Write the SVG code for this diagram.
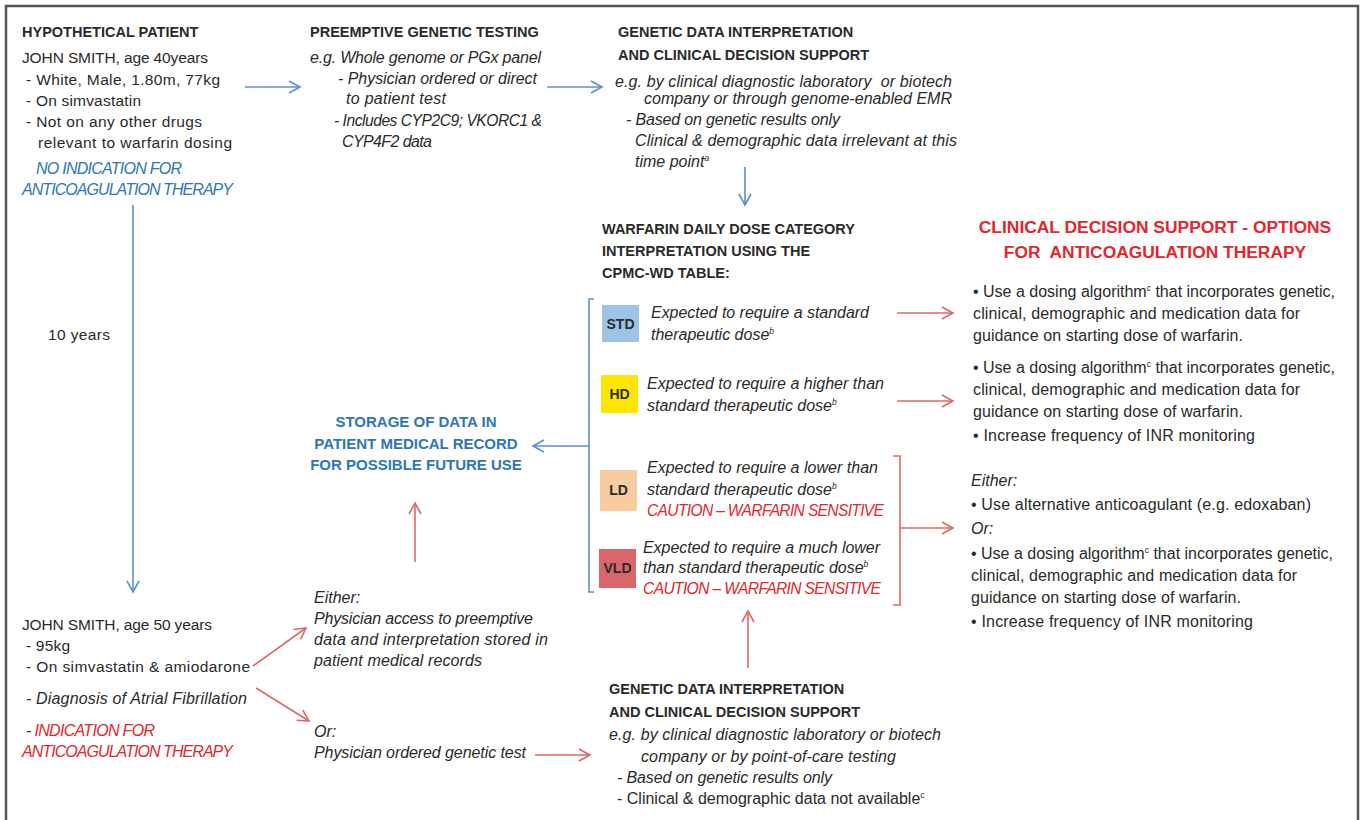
<svg xmlns="http://www.w3.org/2000/svg" width="1362" height="820" viewBox="0 0 1362 820">
<defs>
<marker id="ab" markerUnits="userSpaceOnUse" markerWidth="14" markerHeight="14" refX="12" refY="7" orient="auto"><path d="M1,1 L12,7 L1,13" fill="none" stroke="#5b8fd0" stroke-width="1.6"/></marker>
<marker id="ar" markerUnits="userSpaceOnUse" markerWidth="14" markerHeight="14" refX="12" refY="7" orient="auto"><path d="M1,1 L12,7 L1,13" fill="none" stroke="#e06666" stroke-width="1.6"/></marker>
<style>
text{font-family:"Liberation Sans",Arial,sans-serif;font-size:15.5px;fill:#2a2a2a}
.b{font-weight:bold}
.i{font-style:italic;font-size:16px}
.blue{fill:#2e75b6}
.red{fill:#e3262d}
.h{font-size:14.5px;font-weight:bold}
.s{font-size:15px;font-weight:bold}
.r{font-size:16px}
.n{font-size:15.6px}
.sup{font-size:8.5px}
.cb{stroke:#5b8fd0;stroke-width:1.6;fill:none}
.cr{stroke:#e06666;stroke-width:1.6;fill:none}
.lbl{font-weight:bold;font-size:14px;text-anchor:middle}
</style>
</defs>
<rect width="1362" height="820" fill="#fff"/>
<path d="M6,820 V6 H1358 V820" fill="none" stroke="#555" stroke-width="2.5"/>

<g id="patient40">
<text x="22" y="37" class="h">HYPOTHETICAL PATIENT</text>
<text x="22" y="63" textLength="186">JOHN SMITH, age 40years</text>
<text x="26" y="85" textLength="194">- White, Male, 1.80m, 77kg</text>
<text x="26" y="106" textLength="115">- On simvastatin</text>
<text x="26" y="127" textLength="176">- Not on any other drugs</text>
<text x="38" y="148" textLength="194">relevant to warfarin dosing</text>
<text x="36" y="174" class="i blue" textLength="146">NO INDICATION FOR</text>
<text x="22" y="195" class="i blue" textLength="211">ANTICOAGULATION THERAPY</text>
</g>

<g id="preemptive">
<text x="310" y="37" class="h">PREEMPTIVE GENETIC TESTING</text>
<text x="310" y="63" class="i" textLength="231">e.g. Whole genome or PGx panel</text>
<text x="338" y="84" class="i" textLength="199">- Physician ordered or direct</text>
<text x="346" y="104" class="i" textLength="100">to patient test</text>
<text x="334" y="126" class="i n" textLength="208">- Includes CYP2C9; VKORC1 &amp;</text>
<text x="342" y="147" class="i" textLength="90">CYP4F2 data</text>
</g>

<g id="gdi1">
<text x="618" y="37" class="h">GENETIC DATA INTERPRETATION</text>
<text x="618" y="60" class="h">AND CLINICAL DECISION SUPPORT</text>
<text x="615" y="87" class="i" textLength="337" xml:space="preserve">e.g. by clinical diagnostic laboratory  or biotech</text>
<text x="644" y="104" class="i" textLength="308">company or through genome-enabled EMR</text>
<text x="626" y="125" class="i" textLength="214">- Based on genetic results only</text>
<text x="635" y="146" class="i" textLength="322">Clinical &amp; demographic data irrelevant at this</text>
<text x="635" y="167" class="i">time point<tspan class="sup" dy="-6">a</tspan></text>
</g>

<g id="wdtable">
<text x="602" y="234" class="h">WARFARIN DAILY DOSE CATEGORY</text>
<text x="602" y="256" class="h">INTERPRETATION USING THE</text>
<text x="602" y="278" class="h">CPMC-WD TABLE:</text>
</g>

<g id="std">
<rect x="602" y="305" width="37" height="37" fill="#9dc3e6"/>
<text x="620.5" y="329" class="lbl">STD</text>
<text x="651" y="318" class="i" textLength="218">Expected to require a standard</text>
<text x="651" y="340" class="i">therapeutic dose<tspan class="sup" dy="-6">b</tspan></text>
</g>

<g id="hd">
<rect x="601" y="375" width="37" height="38" fill="#ffe600"/>
<text x="619.5" y="399" class="lbl">HD</text>
<text x="647" y="389" class="i" textLength="237">Expected to require a higher than</text>
<text x="647" y="411" class="i">standard therapeutic dose<tspan class="sup" dy="-6">b</tspan></text>
</g>

<g id="ld">
<rect x="600" y="470" width="37" height="41" fill="#f8cba0"/>
<text x="618.5" y="495" class="lbl">LD</text>
<text x="647" y="473" class="i" textLength="231">Expected to require a lower than</text>
<text x="647" y="495" class="i">standard therapeutic dose<tspan class="sup" dy="-6">b</tspan></text>
<text x="647" y="516" class="i red n" textLength="237">CAUTION – WARFARIN SENSITIVE</text>
</g>

<g id="vld">
<rect x="599" y="549" width="37" height="39" fill="#d9666a"/>
<text x="617.5" y="573" class="lbl">VLD</text>
<text x="643" y="553" class="i" textLength="237">Expected to require a much lower</text>
<text x="643" y="573" class="i">than standard therapeutic dose<tspan class="sup" dy="-6">b</tspan></text>
<text x="643" y="594" class="i red n" textLength="238">CAUTION – WARFARIN SENSITIVE</text>
</g>

<g id="storage">
<text x="416" y="427" class="s blue" text-anchor="middle">STORAGE OF DATA IN</text>
<text x="416" y="449" class="s blue" text-anchor="middle">PATIENT MEDICAL RECORD</text>
<text x="416" y="470" class="s blue" text-anchor="middle">FOR POSSIBLE FUTURE USE</text>
</g>

<g id="options">
<text x="1155" y="233" class="b red" text-anchor="middle" style="font-size:17.4px">CLINICAL DECISION SUPPORT - OPTIONS</text>
<text x="1155" y="258" class="b red" text-anchor="middle" style="font-size:17.4px" xml:space="preserve">FOR  ANTICOAGULATION THERAPY</text>
<text x="973" y="297" class="r">•  Use a dosing algorithm<tspan class="sup" dy="-6">c</tspan><tspan dy="6"> that incorporates genetic,</tspan></text>
<text x="973" y="319" class="r" textLength="327">clinical, demographic and medication data for</text>
<text x="973" y="341" class="r" textLength="270">guidance on starting dose of warfarin.</text>
<text x="973" y="373" class="r">•  Use a dosing algorithm<tspan class="sup" dy="-6">c</tspan><tspan dy="6"> that incorporates genetic,</tspan></text>
<text x="973" y="395" class="r" textLength="327">clinical, demographic and medication data for</text>
<text x="973" y="417" class="r" textLength="270">guidance on starting dose of warfarin.</text>
<text x="973" y="441" class="r" textLength="282">•  Increase frequency of INR monitoring</text>
<text x="971" y="486" class="i">Either:</text>
<text x="971" y="510" class="r" textLength="340">•  Use alternative anticoagulant (e.g. edoxaban)</text>
<text x="971" y="534" class="i">Or:</text>
<text x="971" y="559" class="r">•  Use a dosing algorithm<tspan class="sup" dy="-6">c</tspan><tspan dy="6"> that incorporates genetic,</tspan></text>
<text x="971" y="581" class="r" textLength="326">clinical, demographic and medication data for</text>
<text x="971" y="603" class="r" textLength="270">guidance on starting dose of warfarin.</text>
<text x="971" y="627" class="r" textLength="282">•  Increase frequency of INR monitoring</text>
</g>

<g id="patient50">
<text x="22" y="630" textLength="190">JOHN SMITH, age 50 years</text>
<text x="26" y="651" textLength="44">- 95kg</text>
<text x="26" y="672" textLength="224">- On simvastatin &amp; amiodarone</text>
<text x="26" y="704" class="i" textLength="221">- Diagnosis of Atrial Fibrillation</text>
<text x="26" y="736" class="i" textLength="129">- <tspan class="red">INDICATION FOR</tspan></text>
<text x="22" y="757" class="i red" textLength="211">ANTICOAGULATION THERAPY</text>
</g>

<g id="physician">
<text x="314" y="603" class="i">Either:</text>
<text x="314" y="624" class="i" textLength="219">Physician access to preemptive</text>
<text x="314" y="645" class="i" textLength="234">data and interpretation stored in</text>
<text x="314" y="666" class="i" textLength="168">patient medical records</text>
<text x="314" y="737" class="i">Or:</text>
<text x="314" y="758" class="i" textLength="212">Physician ordered genetic test</text>
</g>

<g id="gdi2">
<text x="609" y="694" class="h">GENETIC DATA INTERPRETATION</text>
<text x="609" y="717" class="h">AND CLINICAL DECISION SUPPORT</text>
<text x="609" y="740" class="i" textLength="332">e.g. by clinical diagnostic laboratory or biotech</text>
<text x="641" y="762" class="i" textLength="255">company or by point-of-care testing</text>
<text x="617" y="783" class="i" textLength="215">- Based on genetic results only</text>
<text x="617" y="804" class="r">- Clinical &amp; demographic data not available<tspan class="sup" dy="-6">c</tspan></text>
</g>

<g id="connectors">
<line x1="245" y1="87" x2="300" y2="87" class="cb" marker-end="url(#ab)"/>
<line x1="547" y1="87" x2="602" y2="87" class="cb" marker-end="url(#ab)"/>
<line x1="745" y1="167" x2="745" y2="205" class="cb" marker-end="url(#ab)"/>
<line x1="133" y1="205" x2="133" y2="592" class="cb" marker-end="url(#ab)"/>
<path d="M594,299 H589 V592 H594" class="cb"/>
<line x1="589" y1="446" x2="533" y2="446" class="cb" marker-end="url(#ab)"/>
<line x1="897" y1="313" x2="953" y2="313" class="cr" marker-end="url(#ar)"/>
<line x1="897" y1="401" x2="953" y2="401" class="cr" marker-end="url(#ar)"/>
<path d="M893,456 H900 V605 H893" class="cr"/>
<line x1="900" y1="528" x2="953" y2="528" class="cr" marker-end="url(#ar)"/>
<line x1="748" y1="668" x2="748" y2="611" class="cr" marker-end="url(#ar)"/>
<line x1="415" y1="562" x2="415" y2="503" class="cr" marker-end="url(#ar)"/>
<line x1="253" y1="666" x2="306" y2="628" class="cr" marker-end="url(#ar)"/>
<line x1="256" y1="688" x2="309" y2="721" class="cr" marker-end="url(#ar)"/>
<line x1="535" y1="755" x2="590" y2="755" class="cr" marker-end="url(#ar)"/>
</g>
<text x="48" y="340" textLength="62">10 years</text>
</svg>
